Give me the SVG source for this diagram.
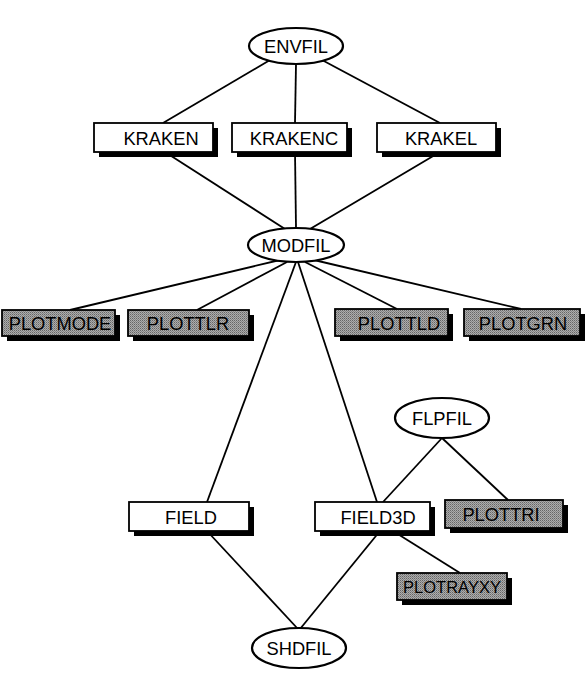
<svg xmlns="http://www.w3.org/2000/svg" width="588" height="684" viewBox="0 0 588 684">
<defs>
<pattern id="dither" width="2" height="2" patternUnits="userSpaceOnUse">
<rect width="2" height="2" fill="#adadad"/>
<rect width="1" height="1" fill="#666"/>
<rect x="1" y="1" width="1" height="1" fill="#858585"/>
</pattern>
</defs>
<style>
text{font-family:"Liberation Sans",Arial,sans-serif;font-size:18.3px;text-anchor:middle;fill:#000}
.box{fill:#fff;stroke:#000;stroke-width:1.8}
.gbox{fill:url(#dither);stroke:#000;stroke-width:1.8}
.sh{fill:#000}
.ell{fill:#fff;stroke:#000;stroke-width:2.2}
.con line{stroke:#000;stroke-width:1.8}
</style>
<rect width="588" height="684" fill="#fff"/>
<g class="con">
<line x1="270" y1="60" x2="163" y2="123"/>
<line x1="296" y1="64" x2="295" y2="123"/>
<line x1="322" y1="60" x2="440" y2="123"/>
<line x1="165" y1="152" x2="285" y2="229"/>
<line x1="295" y1="152" x2="296" y2="228"/>
<line x1="440" y1="152" x2="310" y2="229"/>
<line x1="280" y1="260" x2="70" y2="310"/>
<line x1="287" y1="262" x2="197" y2="310"/>
<line x1="296" y1="262" x2="207" y2="502"/>
<line x1="298" y1="262" x2="377" y2="502"/>
<line x1="305" y1="262" x2="397" y2="309"/>
<line x1="314" y1="260" x2="521" y2="309"/>
<line x1="442" y1="438" x2="383" y2="502"/>
<line x1="442" y1="438" x2="508" y2="500"/>
<line x1="207" y1="531" x2="298" y2="629"/>
<line x1="380" y1="531" x2="300" y2="629"/>
<line x1="393" y1="531" x2="460" y2="573"/>
</g>
<g id="envfil"><ellipse class="ell" cx="296" cy="46" rx="47" ry="18"/><text x="296" y="52.5">ENVFIL</text></g>
<g id="kraken"><rect class="sh" x="99" y="128" width="119" height="29"/><rect class="box" x="94" y="123" width="119" height="29"/><text x="161" y="145">KRAKEN</text></g>
<g id="krakenc"><rect class="sh" x="237" y="128" width="115" height="29"/><rect class="box" x="232" y="123" width="115" height="29"/><text x="294" y="145">KRAKENC</text></g>
<g id="krakel"><rect class="sh" x="382" y="128" width="119" height="29"/><rect class="box" x="377" y="123" width="119" height="29"/><text x="441" y="145">KRAKEL</text></g>
<g id="modfil"><ellipse class="ell" cx="296" cy="245" rx="48" ry="17"/><text x="296" y="251.5">MODFIL</text></g>
<g id="plotmode"><rect class="sh" x="7" y="315" width="113" height="26"/><rect class="gbox" x="2" y="310" width="113" height="26"/><text x="60" y="329.5">PLOTMODE</text></g>
<g id="plottlr"><rect class="sh" x="133" y="315" width="121" height="26"/><rect class="gbox" x="128" y="310" width="121" height="26"/><text x="188" y="329.5">PLOTTLR</text></g>
<g id="plottld"><rect class="sh" x="340" y="314" width="113" height="27"/><rect class="gbox" x="335" y="309" width="113" height="27"/><text x="399" y="329.5">PLOTTLD</text></g>
<g id="plotgrn"><rect class="sh" x="469" y="314" width="116" height="27"/><rect class="gbox" x="464" y="309" width="116" height="27"/><text x="523" y="329.5">PLOTGRN</text></g>
<g id="flpfil"><ellipse class="ell" cx="442" cy="418" rx="47" ry="20"/><text x="442" y="424.5">FLPFIL</text></g>
<g id="field"><rect class="sh" x="134" y="507" width="120" height="29"/><rect class="box" x="129" y="502" width="120" height="29"/><text x="191" y="523.5">FIELD</text></g>
<g id="field3d"><rect class="sh" x="320" y="507" width="115" height="29"/><rect class="box" x="315" y="502" width="115" height="29"/><text x="378" y="523.5">FIELD3D</text></g>
<g id="plottri"><rect class="sh" x="450" y="505" width="118" height="28"/><rect class="gbox" x="445" y="500" width="118" height="28"/><text x="501" y="520.5">PLOTTRI</text></g>
<g id="plotrayxy"><rect class="sh" x="402" y="578" width="110" height="27"/><rect class="gbox" x="397" y="573" width="110" height="27"/><text x="452" y="593" style="font-size:16.5px">PLOTRAYXY</text></g>
<g id="shdfil"><ellipse class="ell" cx="299" cy="648" rx="47" ry="20"/><text x="299" y="654.5">SHDFIL</text></g>
</svg>
